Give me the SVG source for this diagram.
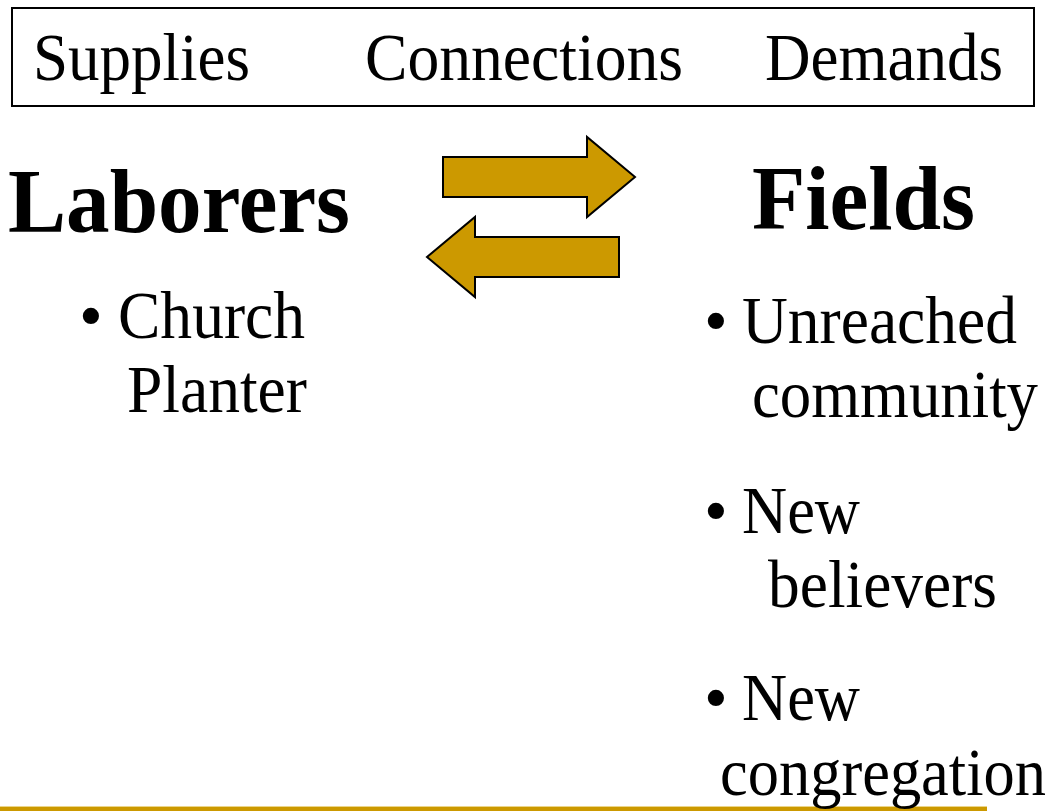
<svg xmlns="http://www.w3.org/2000/svg" width="1056" height="811" viewBox="0 0 1056 811">
<style>
text{font-family:'Liberation Serif','Times New Roman',serif;fill:#000}
.h{font-size:68px}
.b{font-size:90px;font-weight:bold}
.i{font-size:68px}
.n{font-size:62.5px}
.arrow{fill:#CC9900;stroke:#000;stroke-width:2;stroke-linejoin:miter}
</style>
<rect width="1056" height="811" fill="#fff"/>
<g id="footer">
<rect x="0" y="806" width="987" height="1" fill="#EBD58A"/>
<rect x="0" y="807" width="987" height="4" fill="#CC9900"/>
</g>
<g id="header">
<rect x="12" y="8" width="1022" height="98" fill="#fff" stroke="#000" stroke-width="2"/>
<text class="h" x="33" y="80" textLength="217" lengthAdjust="spacingAndGlyphs">Supplies</text>
<text class="h" x="365" y="80" textLength="318" lengthAdjust="spacingAndGlyphs">Connections</text>
<text class="h" x="765" y="80" textLength="238" lengthAdjust="spacingAndGlyphs">Demands</text>
</g>
<g id="laborers">
<text class="b" x="8" y="232" textLength="342" lengthAdjust="spacingAndGlyphs">Laborers</text>
<text class="i" x="79" y="338">•</text>
<text class="i" x="118" y="338" textLength="187" lengthAdjust="spacingAndGlyphs">Church</text>
<text class="i" x="127" y="412" textLength="180" lengthAdjust="spacingAndGlyphs">Planter</text>
</g>
<g id="fields">
<text class="b" x="752" y="229" textLength="223" lengthAdjust="spacingAndGlyphs">Fields</text>
<text class="i" x="704" y="343">•</text>
<text class="i" x="742" y="343" textLength="275" lengthAdjust="spacingAndGlyphs">Unreached</text>
<text class="n" transform="translate(752,417) scale(1,1.088)" x="0" y="0" textLength="286" lengthAdjust="spacingAndGlyphs">community</text>
<text class="i" x="704" y="533">•</text>
<text class="i" x="742" y="533" textLength="118" lengthAdjust="spacingAndGlyphs">New</text>
<text class="i" x="768" y="607" textLength="229" lengthAdjust="spacingAndGlyphs">believers</text>
<text class="i" x="704" y="720">•</text>
<text class="i" x="742" y="720" textLength="118" lengthAdjust="spacingAndGlyphs">New</text>
<text class="n" transform="translate(720,795) scale(1,1.088)" x="0" y="0" textLength="326" lengthAdjust="spacingAndGlyphs">congregation</text>
</g>
<g id="connectors">
<polygon class="arrow" points="443,157 587,157 587,137 635,177 587,217 587,197 443,197"/>
<polygon class="arrow" points="619,237 475,237 475,217 427,257 475,297 475,277 619,277"/>
</g>
</svg>
